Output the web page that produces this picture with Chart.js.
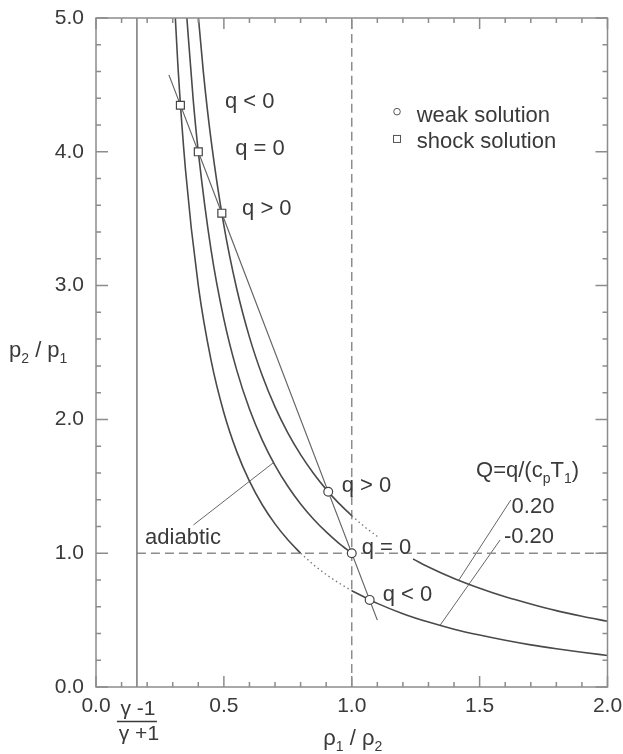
<!DOCTYPE html>
<html>
<head>
<meta charset="utf-8">
<script src="https://cdn.jsdelivr.net/npm/chart.js@4.4.1/dist/chart.umd.min.js"></script>
<style>
  body { margin: 0; background: #fff; }
  #wrap { width: 623px; height: 754px; }
</style>
</head>
<body>
<div id="wrap"><canvas id="hugoniot"></canvas></div>
<script>
// Hugoniot curves, x = rho1/rho2, y = p2/p1

// Q = -0.20 (q < 0): solid left branch, dotted part, solid right branch
const negLeftX  = [0.30, 0.32, 0.35, 0.40, 0.45, 0.50, 0.55, 0.60, 0.65, 0.70, 0.75, 0.80];
const negLeftY  = [5.375, 4.652, 3.864, 3.000, 2.441, 2.050, 1.761, 1.538, 1.362, 1.219, 1.100, 1.000];
const negDotX   = [0.80, 0.85, 0.90, 0.95, 1.00];
const negDotY   = [1.000, 0.915, 0.841, 0.777, 0.720];
const negRightX = [1.00, 1.10, 1.20, 1.30, 1.40, 1.50, 1.60, 1.70, 1.80, 1.90, 2.00];
const negRightY = [0.720, 0.625, 0.548, 0.485, 0.432, 0.388, 0.349, 0.315, 0.286, 0.260, 0.236];

// Q = 0 (adiabatic)
const zeroX = [0.35, 0.38, 0.40, 0.45, 0.50, 0.55, 0.60, 0.65, 0.70, 0.75, 0.80, 0.85, 0.90, 0.95, 1.00];
const zeroY = [5.136, 4.391, 4.000, 3.265, 2.750, 2.370, 2.077, 1.845, 1.656, 1.500, 1.368, 1.256, 1.159, 1.074, 1.000];

// Q = 0.20 (q > 0)
const posLeftX  = [0.39, 0.42, 0.45, 0.50, 0.55, 0.60, 0.65, 0.70, 0.75, 0.80, 0.85, 0.90, 0.95, 1.00];
const posLeftY  = [5.231, 4.592, 4.088, 3.450, 2.978, 2.615, 2.328, 2.094, 1.900, 1.737, 1.598, 1.477, 1.372, 1.280];
const posDotX   = [1.00, 1.05, 1.10];
const posDotY   = [1.280, 1.198, 1.125];
const posRightX = [1.24, 1.30, 1.40, 1.50, 1.60, 1.70, 1.80, 1.90, 2.00];
const posRightY = [0.957, 0.897, 0.811, 0.738, 0.674, 0.620, 0.571, 0.529, 0.491];

// Rayleigh line and its crossings
const rayleighX = [0.285, 1.10];
const rayleighY = [4.575, 0.50];
const shockX = [0.330, 0.400, 0.492];
const shockY = [4.348, 4.000, 3.541];
const weakX  = [0.908, 1.000, 1.070];
const weakY  = [1.459, 1.000, 0.651];

// reference lines
const limitRho = 0.16;            // (gamma-1)/(gamma+1)
const limitX = [limitRho, limitRho];
const limitY = [0, 5];
const unitHX = [limitRho, 2.0];
const unitHY = [1, 1];
const unitVX = [1, 1];
const unitVY = [0, 5];

// leader lines for the notes
const adiabLeadX = [0.381, 0.694];
const adiabLeadY = [1.211, 1.677];
const posLeadX = [1.622, 1.418];
const posLeadY = [1.398, 0.797];
const negLeadX = [1.580, 1.346];
const negLeadY = [1.099, 0.463];

const pts = (xs, ys) => xs.map((x, i) => ({ x: x, y: ys[i] }));

const FONT = '"Liberation Sans", Arial, sans-serif';
const INK = '#3a3a3a';
const CURVE = '#4a4a4a';
const GREY = '#8c8c8c';

function line(xs, ys, color, width, dash) {
    return {
        data: pts(xs, ys),
        showLine: true,
        borderColor: color,
        borderWidth: width,
        borderDash: dash || [],
        pointRadius: 0,
        cubicInterpolationMode: 'monotone',
        order: 2
    };
}

// rich text: parts are [text, isSubscript]
function drawRich(ctx, x, y, parts, size, align) {
    const subSize = Math.round(size * 0.64);
    let total = 0;
    parts.forEach(([t, sub]) => {
        ctx.font = (sub ? subSize : size) + 'px ' + FONT;
        total += ctx.measureText(t).width;
    });
    let cx = align === 'center' ? x - total / 2 : x;
    ctx.textAlign = 'left';
    ctx.textBaseline = 'alphabetic';
    parts.forEach(([t, sub]) => {
        ctx.font = (sub ? subSize : size) + 'px ' + FONT;
        ctx.fillText(t, cx, sub ? y + 6 : y);
        cx += ctx.measureText(t).width;
    });
}

const notes = [
    { x: 0.504, y: 4.325, parts: [['q < 0']] },
    { x: 0.544, y: 3.976, parts: [['q = 0']] },
    { x: 0.571, y: 3.528, parts: [['q > 0']] },
    { x: 0.961, y: 1.460, parts: [['q > 0']] },
    { x: 1.039, y: 0.994, parts: [['q = 0']] },
    { x: 1.121, y: 0.645, parts: [['q < 0']] },
    { x: 1.486, y: 1.570, parts: [['Q=q/(c'], ['p', true], ['T'], ['1', true], [')']] },
    { x: 1.625, y: 1.303, parts: [['0.20']] },
    { x: 1.595, y: 1.074, parts: [['-0.20']] },
    { x: 0.192, y: 1.069, parts: [['adiabtic']] },
    { x: 1.254, y: 4.225, parts: [['weak solution']] },
    { x: 1.254, y: 4.028, parts: [['shock solution']] }
];

const framePlugin = {
    id: 'frameAndNotes',
    afterDraw(chart) {
        const { ctx, chartArea: a, scales: { x, y } } = chart;
        ctx.save();

        // frame with inward ticks on all sides
        ctx.strokeStyle = GREY;
        ctx.lineWidth = 1.5;
        ctx.strokeRect(a.left, a.top, a.right - a.left, a.bottom - a.top);
        ctx.beginPath();
        for (let i = 0; i <= 20; i++) {
            const px = x.getPixelForValue(i / 10);
            const len = i % 5 === 0 ? 11 : 5;
            ctx.moveTo(px, a.bottom); ctx.lineTo(px, a.bottom - len);
            ctx.moveTo(px, a.top); ctx.lineTo(px, a.top + len);
        }
        for (let i = 0; i <= 25; i++) {
            const py = y.getPixelForValue(i * 0.2);
            const len = i % 5 === 0 ? 12 : 5;
            ctx.moveTo(a.left, py); ctx.lineTo(a.left + len, py);
            ctx.moveTo(a.right, py); ctx.lineTo(a.right - len, py);
        }
        ctx.stroke();

        // notes inside the plot
        ctx.fillStyle = INK;
        notes.forEach(n => {
            drawRich(ctx, x.getPixelForValue(n.x), y.getPixelForValue(n.y), n.parts, 22);
        });

        // legend symbols
        ctx.strokeStyle = '#555';
        ctx.lineWidth = 1;
        ctx.fillStyle = '#fff';
        const lx = x.getPixelForValue(1.177);
        ctx.beginPath();
        ctx.arc(lx, y.getPixelForValue(4.30), 3.3, 0, Math.PI * 2);
        ctx.fill(); ctx.stroke();
        const sy = y.getPixelForValue(4.096);
        ctx.fillRect(lx - 3.5, sy - 3.5, 7, 7);
        ctx.strokeRect(lx - 3.5, sy - 3.5, 7, 7);

        // axis titles
        ctx.fillStyle = INK;
        drawRich(ctx, 9, 356.5, [['p'], ['2', true], [' / p'], ['1', true]], 22);
        drawRich(ctx, x.getPixelForValue(1.0) + 1, 745, [['\u03c1'], ['1', true], [' / \u03c1'], ['2', true]], 22, 'center');

        // (gamma-1)/(gamma+1) under the limit line
        const fx = x.getPixelForValue(limitRho);
        ctx.font = '21px ' + FONT;
        ctx.textAlign = 'center';
        ctx.textBaseline = 'alphabetic';
        ctx.fillText('\u03b3 -1', fx + 1, 715);
        ctx.fillText('\u03b3 +1', fx + 2, 740);
        ctx.strokeStyle = INK;
        ctx.lineWidth = 1.3;
        ctx.beginPath();
        ctx.moveTo(fx - 20, 721.5); ctx.lineTo(fx + 20, 721.5);
        ctx.stroke();

        ctx.restore();
    }
};

const markerStyle = {
    showLine: false,
    pointRadius: 4.4,
    pointBackgroundColor: '#fff',
    pointBorderColor: '#444',
    pointBorderWidth: 1.2,
    order: 0
};

new Chart(document.getElementById('hugoniot'), {
    type: 'scatter',
    data: {
        datasets: [
            Object.assign({ data: pts(shockX, shockY), pointStyle: 'rect' }, markerStyle, { pointRadius: 5.6 }),
            Object.assign({ data: pts(weakX, weakY), pointStyle: 'circle' }, markerStyle),
            line(rayleighX, rayleighY, '#666', 1.2),
            line(negLeftX, negLeftY, CURVE, 1.6),
            line(negDotX, negDotY, '#777', 1.3, [1.5, 3]),
            line(negRightX, negRightY, CURVE, 1.6),
            line(zeroX, zeroY, CURVE, 1.6),
            line(posLeftX, posLeftY, CURVE, 1.6),
            line(posDotX, posDotY, '#777', 1.3, [1.5, 3]),
            line(posRightX, posRightY, CURVE, 1.6),
            line(limitX, limitY, '#777', 1.5),
            line(unitHX, unitHY, GREY, 1.5, [9, 5]),
            line(unitVX, unitVY, GREY, 1.5, [9, 5]),
            line(adiabLeadX, adiabLeadY, '#666', 1),
            line(posLeadX, posLeadY, '#666', 1),
            line(negLeadX, negLeadY, '#666', 1)
        ]
    },
    options: {
        responsive: true,
        maintainAspectRatio: false,
        animation: false,
        layout: { padding: { left: 0, right: 15.5, top: 18, bottom: 0 } },
        plugins: {
            legend: { display: false },
            tooltip: { enabled: false }
        },
        scales: {
            x: {
                type: 'linear',
                min: 0,
                max: 2,
                grid: { display: false, drawTicks: false },
                border: { display: false },
                ticks: {
                    stepSize: 0.5,
                    padding: 7,
                    color: INK,
                    font: { family: FONT, size: 21 },
                    callback: v => v.toFixed(1)
                },
                afterFit: s => {
                    s.height = 67;
                    s.paddingLeft = 0; s.paddingRight = 0;
                }
            },
            y: {
                type: 'linear',
                min: 0,
                max: 5,
                grid: { display: false, drawTicks: false },
                border: { display: false },
                ticks: {
                    stepSize: 1,
                    padding: 12,
                    color: INK,
                    font: { family: FONT, size: 21 },
                    callback: v => v.toFixed(1)
                },
                afterFit: s => {
                    s.width = 96;
                    s.paddingTop = 0; s.paddingBottom = 0;
                }
            }
        }
    },
    plugins: [framePlugin]
});
</script>
</body>
</html>
